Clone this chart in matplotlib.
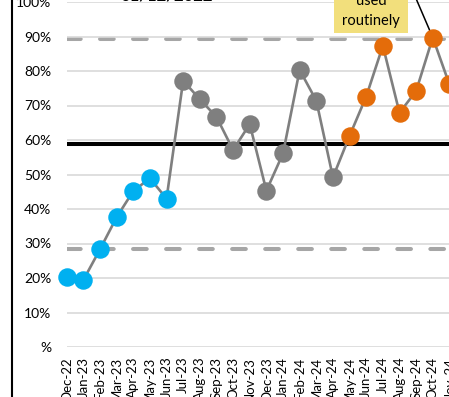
import matplotlib
matplotlib.use("Agg")
import matplotlib.pyplot as plt
from matplotlib.lines import Line2D
from matplotlib.patches import Rectangle

plt.rcParams["font.family"] = ["Lato", "DejaVu Sans"]

# Monthly percentages
months = ["Dec-22", "Jan-23", "Feb-23", "Mar-23", "Apr-23", "May-23", "Jun-23",
          "Jul-23", "Aug-23", "Sep-23", "Oct-23", "Nov-23", "Dec-23", "Jan-24",
          "Feb-24", "Mar-24", "Apr-24", "May-24", "Jun-24", "Jul-24", "Aug-24",
          "Sep-24", "Oct-24", "Nov-24"]
pct = [20.4, 19.4, 28.3, 37.6, 45.2, 48.9, 43.0,
       77.2, 71.8, 66.7, 57.1, 64.6, 45.3, 56.1,
       80.3, 71.4, 49.2, 61.2, 72.6, 87.3, 67.9,
       74.2, 89.7, 76.1]
phase = ["baseline"] * 7 + ["testing"] * 10 + ["routine"] * 7
phase_colours = {"baseline": "#00B0F0", "testing": "#7F7F7F", "routine": "#E46C0A"}

centre = 58.8
ucl = 89.3
lcl = 28.3

y_ticks = [0, 10, 20, 30, 40, 50, 60, 70, 80, 90, 100]
y_labels = ["%", "10%", "20%", "30%", "40%", "50%", "60%", "70%", "80%", "90%", "100%"]

W, H = 449, 397
fig = plt.figure(figsize=(W / 100, H / 100), dpi=100)
fig.patch.set_facecolor("white")

step_px = 16.64
n_span = 26
ax = fig.add_axes([66.7 / W, 50 / H, n_span * step_px / W, 345 / H])
ax.set_xlim(0, n_span)
ax.set_ylim(0, 100)

for s in ax.spines.values():
    s.set_visible(False)

ax.set_yticks(y_ticks)
ax.set_yticklabels(y_labels)
ax.yaxis.grid(True, color="#D9D9D9", lw=1.2, zorder=0)
ax.tick_params(axis="y", length=0, pad=11, labelsize=10, labelcolor="#000000")

x = list(range(len(months)))
ax.set_xticks(x)
ax.set_xticklabels(months, rotation=90, va="top", ha="center")
ax.tick_params(axis="x", length=0, pad=7, labelsize=9.5, labelcolor="#000000")

# control limits and centre line
dash = (0, (3.4, 4.8))
ax.axhline(ucl, color="#A6A6A6", lw=2.9, linestyle=dash, dash_capstyle="round", zorder=1)
ax.axhline(lcl, color="#A6A6A6", lw=2.9, linestyle=dash, dash_capstyle="round", zorder=1)
ax.axhline(centre, color="#000000", lw=2.9, zorder=1)

# series line and coloured markers
ax.plot(x, pct, color="#7F7F7F", lw=1.9, zorder=3, clip_on=False)
for key, col in phase_colours.items():
    xs = [i for i, p in zip(x, phase) if p == key]
    ys = [v for v, p in zip(pct, phase) if p == key]
    ax.plot(xs, ys, "o", ms=12.3, color=col, mec=col, zorder=5, clip_on=False)

# callout box
box_x0, box_x1 = 16.08, 20.53
box_y0, box_y1 = 90.9, 106.2
ax.plot([22, box_x1], [pct[22], box_y1], color="black", lw=1.1, zorder=4, clip_on=False)
ax.add_patch(Rectangle((box_x0, box_y0), box_x1 - box_x0, 20, facecolor="#F2DF7C",
                       edgecolor="none", zorder=6, clip_on=False))
ax.text((box_x0 + box_x1) / 2, 99.0, "used", ha="center", va="baseline",
        fontsize=10.5, zorder=7, clip_on=False)
ax.text((box_x0 + box_x1) / 2, 93.3, "routinely", ha="center", va="baseline",
        fontsize=10.5, zorder=7, clip_on=False)

ax.text(6.0, 100.4, "01/12/2022", ha="center", va="baseline", fontsize=12,
        fontweight="bold", zorder=7, clip_on=False)

# chart border on the left
fig.add_artist(Line2D([11.8 / W, 11.8 / W], [0, 1], color="black", lw=1.5,
                      transform=fig.transFigure))

fig.savefig("out.png", dpi=100, facecolor="white")
